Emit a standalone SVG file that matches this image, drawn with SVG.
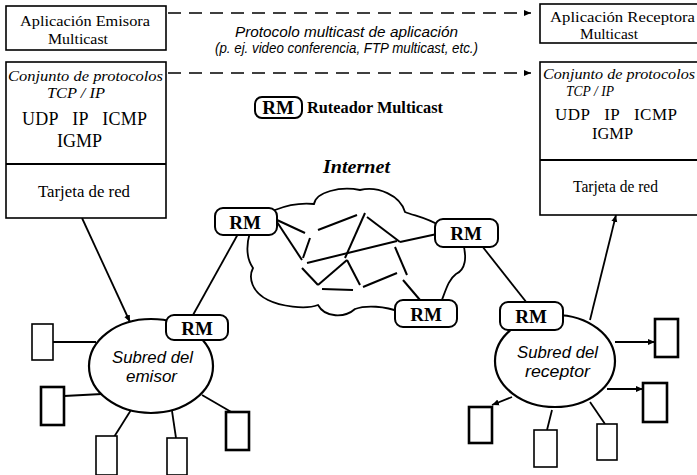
<svg xmlns="http://www.w3.org/2000/svg" width="697" height="475" viewBox="0 0 697 475">
<defs>
<style>
.box{fill:#fff;stroke:#000;stroke-width:1.6}
.rm{fill:#fff;stroke:#000;stroke-width:2}
.ln{stroke:#000;stroke-width:1.8;fill:none}
.net{stroke:#000;stroke-width:2;fill:none}
.dash{stroke:#000;stroke-width:1.5;fill:none;stroke-dasharray:13 8}
.host{fill:#fff;stroke:#000;stroke-width:1.6}
.hostb{fill:#fff;stroke:#000;stroke-width:2.6}
.sf{font-family:"Liberation Serif",serif;fill:#000}
.si{font-family:"Liberation Serif",serif;font-style:italic;fill:#000}
.ss{font-family:"Liberation Sans",sans-serif;font-style:italic;fill:#000}
.rmt{font-family:"Liberation Serif",serif;font-weight:bold;font-size:19px;text-anchor:middle;fill:#000}
</style>
<marker id="ar" markerWidth="8" markerHeight="8" refX="7" refY="4" orient="auto" markerUnits="userSpaceOnUse">
<path d="M0,1 L7,4 L0,7 Z" fill="#000"/>
</marker>
</defs>
<rect width="697" height="475" fill="#fff"/>

<g id="connectors">
<line class="dash" x1="168" y1="13" x2="531" y2="13" marker-end="url(#ar)"/>
<line class="dash" x1="168" y1="73" x2="531" y2="73" marker-end="url(#ar)"/>
<line class="ln" x1="82" y1="218" x2="130" y2="322" marker-end="url(#ar)"/>
<line class="ln" x1="193" y1="315" x2="238" y2="234"/>
<line class="ln" x1="482" y1="246" x2="527" y2="303"/>
<line class="ln" x1="590" y1="320" x2="616" y2="215" marker-end="url(#ar)"/>
<line class="ln" x1="53" y1="342" x2="96" y2="342"/>
<line class="ln" x1="64" y1="396" x2="102" y2="394"/>
<line class="ln" x1="114" y1="437" x2="131" y2="410"/>
<line class="ln" x1="176" y1="438" x2="172" y2="411"/>
<line class="ln" x1="233" y1="413" x2="202" y2="395"/>
<line class="ln" x1="615" y1="342" x2="655" y2="342" marker-end="url(#ar)"/>
<line class="ln" x1="607" y1="389" x2="643" y2="389" marker-end="url(#ar)"/>
<line class="ln" x1="512" y1="397" x2="492" y2="405" marker-end="url(#ar)"/>
<line class="ln" x1="552" y1="410" x2="547" y2="430"/>
<line class="ln" x1="590" y1="402" x2="605" y2="424"/>
</g>

<g id="internet">
<path class="ln" d="M246,222 L275,210 Q295,202 314,204 C316,192 340,186 360,190 C378,186 400,195 405,212 C415,216 428,218 440,226 L462,240 C468,258 465,270 456,274 C448,280 446,290 440,305 L400,312 C385,306 366,305 355,309 C345,318 325,318 318,305 C305,310 280,306 268,300 C252,292 248,278 253,268 C246,258 246,246 250,232 Z"/>
<g class="net">
<line x1="277" y1="220" x2="305" y2="233"/>
<line x1="277" y1="222" x2="302" y2="260"/>
<line x1="318" y1="230" x2="357" y2="215"/>
<line x1="310" y1="238" x2="303" y2="258"/>
<line x1="365" y1="213" x2="345" y2="258"/>
<line x1="367" y1="217" x2="400" y2="242"/>
<line x1="400" y1="242" x2="437" y2="234"/>
<line x1="307" y1="263" x2="397" y2="241"/>
<line x1="302" y1="268" x2="318" y2="285"/>
<line x1="318" y1="285" x2="347" y2="260"/>
<line x1="347" y1="260" x2="360" y2="285"/>
<line x1="322" y1="289" x2="353" y2="290"/>
<line x1="363" y1="287" x2="397" y2="273"/>
<line x1="395" y1="247" x2="407" y2="275"/>
<line x1="403" y1="280" x2="420" y2="300"/>
</g>
<text class="si" x="323" y="173" font-size="18" font-weight="bold" textLength="67" lengthAdjust="spacingAndGlyphs">Internet</text>
</g>

<g id="app-emisora">
<rect class="box" x="6" y="6" width="160" height="44"/>
<text class="sf" x="20" y="26" font-size="15.5" textLength="130" lengthAdjust="spacingAndGlyphs">Aplicación Emisora</text>
<text class="sf" x="48" y="44" font-size="15.5" textLength="60" lengthAdjust="spacingAndGlyphs">Multicast</text>
</g>

<g id="pila-emisor">
<rect class="box" x="6" y="62" width="160" height="156"/>
<line class="ln" x1="6" y1="164" x2="166" y2="164"/>
<text class="si" x="8" y="81" font-size="15.5" textLength="155" lengthAdjust="spacingAndGlyphs">Conjunto de protocolos</text>
<text class="si" x="47" y="98" font-size="15.5" textLength="58" lengthAdjust="spacingAndGlyphs">TCP / IP</text>
<text class="sf" x="22" y="125" font-size="18" textLength="125" lengthAdjust="spacing" xml:space="preserve">UDP   IP   ICMP</text>
<text class="sf" x="57" y="147" font-size="18" textLength="45" lengthAdjust="spacingAndGlyphs">IGMP</text>
<text class="sf" x="38" y="197" font-size="16.5" textLength="92" lengthAdjust="spacingAndGlyphs">Tarjeta de red</text>
</g>

<g id="app-receptora">
<rect class="box" x="540" y="4" width="160" height="39"/>
<text class="sf" x="550" y="22" font-size="15.5" textLength="145" lengthAdjust="spacingAndGlyphs">Aplicación Receptora</text>
<text class="sf" x="580" y="39" font-size="15.5" textLength="58" lengthAdjust="spacingAndGlyphs">Multicast</text>
</g>

<g id="pila-receptor">
<rect class="box" x="540" y="62" width="160" height="153"/>
<line class="ln" x1="540" y1="160" x2="697" y2="160"/>
<text class="si" x="543" y="79" font-size="15" textLength="152" lengthAdjust="spacingAndGlyphs">Conjunto de protocolos</text>
<text class="si" x="566" y="96" font-size="15" textLength="48" lengthAdjust="spacingAndGlyphs">TCP / IP</text>
<text class="sf" x="555" y="120" font-size="17" textLength="122" lengthAdjust="spacing" xml:space="preserve">UDP   IP   ICMP</text>
<text class="sf" x="592" y="139" font-size="17" textLength="41" lengthAdjust="spacingAndGlyphs">IGMP</text>
<text class="sf" x="573" y="192" font-size="16" textLength="85" lengthAdjust="spacingAndGlyphs">Tarjeta de red</text>
</g>

<g id="protocolo-label">
<text class="ss" x="235" y="37" font-size="15" textLength="223" lengthAdjust="spacingAndGlyphs">Protocolo multicast de aplicación</text>
<text class="ss" x="215" y="53" font-size="14.5" textLength="263" lengthAdjust="spacingAndGlyphs">(p. ej. video conferencia, FTP multicast, etc.)</text>
</g>

<g id="leyenda">
<rect class="rm" x="255" y="97" width="47" height="21" rx="7"/>
<text class="rmt" x="278" y="114" font-size="18">RM</text>
<text class="sf" x="307" y="113" font-size="16" font-weight="bold" textLength="136" lengthAdjust="spacingAndGlyphs">Ruteador Multicast</text>
</g>

<g id="rm-izq">
<rect class="rm" x="215" y="208" width="62" height="27" rx="8"/>
<text class="rmt" x="245" y="229">RM</text>
</g>
<g id="rm-der">
<rect class="rm" x="435" y="219" width="63" height="28" rx="8"/>
<text class="rmt" x="466" y="240">RM</text>
</g>
<g id="rm-inf">
<rect class="rm" x="395" y="300" width="62" height="27" rx="8"/>
<text class="rmt" x="426" y="321">RM</text>
</g>

<g id="subred-emisor">
<ellipse cx="151" cy="366" rx="62" ry="47" fill="#fff" stroke="#000" stroke-width="2.2"/>
<text class="ss" x="112" y="363" font-size="16.5" textLength="81" lengthAdjust="spacingAndGlyphs">Subred del</text>
<text class="ss" x="126" y="382" font-size="16.5" textLength="51" lengthAdjust="spacingAndGlyphs">emisor</text>
</g>
<g id="rm-emisor">
<rect class="rm" x="166" y="315" width="62" height="25" rx="8"/>
<text class="rmt" x="197" y="335">RM</text>
</g>

<g id="subred-receptor">
<ellipse cx="555" cy="361" rx="60" ry="46" fill="#fff" stroke="#000" stroke-width="2.2"/>
<text class="ss" x="517" y="358" font-size="16.5" textLength="81" lengthAdjust="spacingAndGlyphs">Subred del</text>
<text class="ss" x="525" y="377" font-size="16.5" textLength="65" lengthAdjust="spacingAndGlyphs">receptor</text>
</g>
<g id="rm-receptor">
<rect class="rm" x="500" y="302" width="63" height="28" rx="8"/>
<text class="rmt" x="531" y="323">RM</text>
</g>

<g id="hosts-emisor">
<rect class="host" x="32" y="324" width="21" height="36"/>
<rect class="hostb" x="41" y="387" width="23" height="38"/>
<rect class="host" x="96" y="436" width="21" height="39"/>
<rect class="host" x="167" y="438" width="20" height="37"/>
<rect class="hostb" x="226" y="412" width="23" height="38"/>
</g>

<g id="hosts-receptor">
<rect class="hostb" x="655" y="319" width="23" height="38"/>
<rect class="hostb" x="643" y="383" width="24" height="39"/>
<rect class="hostb" x="469" y="407" width="23" height="36"/>
<rect class="host" x="534" y="430" width="23" height="37"/>
<rect class="host" x="597" y="424" width="20" height="36"/>
</g>
</svg>
